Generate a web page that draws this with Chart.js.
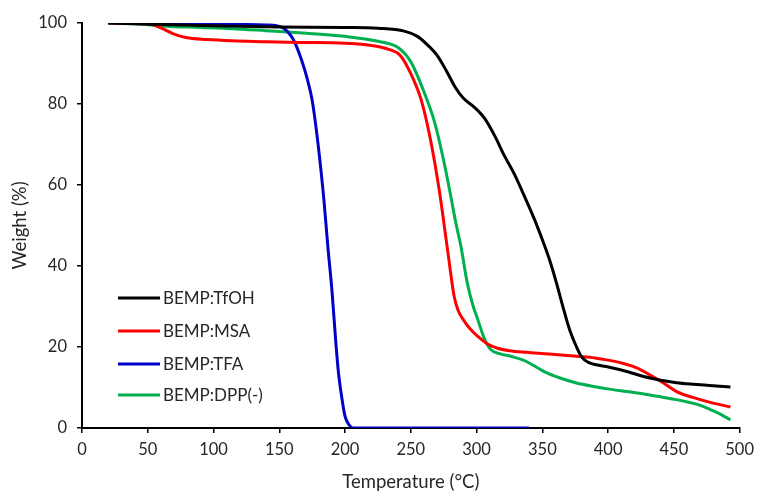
<!DOCTYPE html>
<html>
<head>
<meta charset="utf-8">
<script src="https://cdn.jsdelivr.net/npm/chart.js@4"></script>
<style>
    html, body { margin: 0; padding: 0; background: #fff; }
    #wrap { width: 761px; height: 493px; }
</style>
</head>
<body>
<div id="wrap"><canvas id="tga-chart" width="761" height="493"></canvas></div>
<script>
    // TGA curves, temperature (°C) vs weight (%)
    var seriesLabels = ['BEMP:TfOH', 'BEMP:MSA', 'BEMP:TFA', 'BEMP:DPP(-)'];
    var seriesColors = ['#000000', '#ff0000', '#0000c8', '#00b050'];

    var tfohTemp = [20, 60, 100, 150, 200, 225, 245, 255, 262, 270, 277, 284, 290, 298, 306, 314, 321, 329, 336, 344, 351, 356, 361, 366, 371, 376, 380, 385, 393, 401, 415, 427, 440, 452, 465, 477, 493];
    var tfohWeight = [100, 99.6, 99.3, 99.0, 98.9, 98.7, 98.0, 96.7, 94.8, 92.0, 88.2, 84.0, 81.4, 79.3, 76.5, 72.0, 67.3, 62.5, 57.5, 51.5, 45.6, 41.0, 35.5, 29.5, 24.0, 20.0, 17.5, 16.2, 15.5, 15.0, 13.9, 12.7, 11.8, 11.2, 10.8, 10.5, 10.1];

    var msaTemp = [20, 45, 53, 60, 69, 79, 95, 114, 140, 165, 200, 225, 235, 242, 250, 258, 265, 272, 278, 283, 286, 290, 295, 301, 308, 316, 325, 338, 355, 376, 390, 401, 411, 419, 427, 434, 443, 452, 465, 477, 493];
    var msaWeight = [100, 100, 99.7, 98.8, 97.4, 96.4, 95.9, 95.6, 95.4, 95.2, 95.0, 94.2, 93.3, 92.0, 87.5, 80.9, 71.1, 57.9, 43.8, 32.4, 29.0, 26.7, 24.5, 22.6, 20.8, 19.7, 19.1, 18.7, 18.3, 17.7, 17.3, 16.7, 16.0, 15.2, 14.0, 12.7, 10.9, 9.0, 7.5, 6.4, 5.2];

    var tfaTemp = [20, 50, 100, 140, 148, 153, 157, 160, 163, 167, 171, 175, 180, 184, 187, 190, 193, 195, 198, 200, 203, 206, 210, 340];
    var tfaWeight = [100, 99.9, 99.7, 99.5, 99.3, 98.8, 97.6, 96.3, 94.3, 90.8, 86.5, 80.9, 68.6, 56.0, 44.5, 34.1, 21.0, 13.6, 6.5, 2.9, 0.8, 0, 0, 0];

    var dppTemp = [20, 40, 64, 90, 114, 140, 165, 200, 225, 240, 250, 260, 268, 275, 280, 284, 288, 293, 297, 301, 306, 311, 318, 326, 336, 343, 351, 363, 376, 390, 401, 414, 427, 440, 452, 462, 470, 478, 486, 493];
    var dppWeight = [100, 99.8, 99.2, 98.9, 98.6, 98.1, 97.6, 96.7, 95.5, 94.0, 90.4, 83.0, 75.6, 66.0, 57.9, 51.0, 45.0, 35.7, 30.5, 26.7, 22.0, 19.3, 18.3, 17.7, 16.7, 15.5, 14.0, 12.4, 11.1, 10.2, 9.6, 9.0, 8.4, 7.7, 7.0, 6.3, 5.6, 4.5, 3.3, 2.0];

    var xTicks = [0, 50, 100, 150, 200, 250, 300, 350, 400, 450, 500];
    var yTicks = [0, 20, 40, 60, 80, 100];

    var FONT = 'Lato, "Open Sans", sans-serif';
    var TEXT = '#262626';

    function toPoints(xs, ys) {
        return xs.map(function(x, i) {
            return { x: x, y: ys[i] };
        });
    }

    var pointSets = [
        toPoints(tfohTemp, tfohWeight),
        toPoints(msaTemp, msaWeight),
        toPoints(tfaTemp, tfaWeight),
        toPoints(dppTemp, dppWeight)
    ];

    var datasets = pointSets.map(function(points, i) {
        return {
            label: seriesLabels[i],
            data: points,
            borderColor: seriesColors[i],
            backgroundColor: seriesColors[i],
            borderWidth: 3,
            pointRadius: 0,
            fill: false,
            cubicInterpolationMode: 'monotone'
        };
    });

    // legend drawn inside the plot area, lower left
    var insideLegend = {
        id: 'insideLegend',
        afterDatasetsDraw: function(chart) {
            var ctx = chart.ctx;
            var rows = [298, 331, 364, 395];
            ctx.save();
            ctx.font = '17px ' + FONT;
            ctx.textBaseline = 'middle';
            ctx.textAlign = 'left';
            chart.data.datasets.forEach(function(ds, i) {
                ctx.strokeStyle = ds.borderColor;
                ctx.lineWidth = 3;
                ctx.beginPath();
                ctx.moveTo(118, rows[i]);
                ctx.lineTo(160, rows[i]);
                ctx.stroke();
                ctx.fillStyle = TEXT;
                ctx.fillText(ds.label, 163, rows[i] + 1);
            });
            ctx.restore();
        }
    };

    new Chart(document.getElementById('tga-chart'), {
        type: 'line',
        data: { datasets: datasets },
        plugins: [insideLegend],
        options: {
            responsive: false,
            animation: false,
            layout: {
                padding: { top: 23, right: 17, bottom: 0, left: 0 }
            },
            plugins: {
                legend: { display: false },
                tooltip: { enabled: false }
            },
            scales: {
                x: {
                    type: 'linear',
                    min: 0,
                    max: 500,
                    afterBuildTicks: function(scale) {
                        scale.ticks = xTicks.map(function(v) { return { value: v }; });
                    },
                    afterFit: function(scale) {
                        scale.height = 65;
                    },
                    grid: {
                        drawOnChartArea: false,
                        drawTicks: true,
                        tickLength: 5,
                        color: '#000',
                        lineWidth: 1.5
                    },
                    border: { color: '#000', width: 2 },
                    ticks: {
                        color: TEXT,
                        font: { family: FONT, size: 16.5 },
                        padding: 7,
                        maxRotation: 0
                    },
                    title: {
                        display: true,
                        text: 'Temperature (°C)',
                        color: TEXT,
                        font: { family: FONT, size: 18.5 },
                        padding: { top: 3, bottom: 0 }
                    }
                },
                y: {
                    min: 0,
                    max: 100,
                    afterBuildTicks: function(scale) {
                        scale.ticks = yTicks.map(function(v) { return { value: v }; });
                    },
                    afterFit: function(scale) {
                        scale.width = 82;
                    },
                    grid: {
                        drawOnChartArea: false,
                        drawTicks: true,
                        tickLength: 5,
                        color: '#000',
                        lineWidth: 1.5
                    },
                    border: { color: '#000', width: 2 },
                    ticks: {
                        color: TEXT,
                        font: { family: FONT, size: 16.5 },
                        padding: 10
                    },
                    title: {
                        display: true,
                        text: 'Weight (%)',
                        color: TEXT,
                        font: { family: FONT, size: 18.5 },
                        padding: { top: 9, bottom: 0 }
                    }
                }
            }
        }
    });
</script>
</body>
</html>
